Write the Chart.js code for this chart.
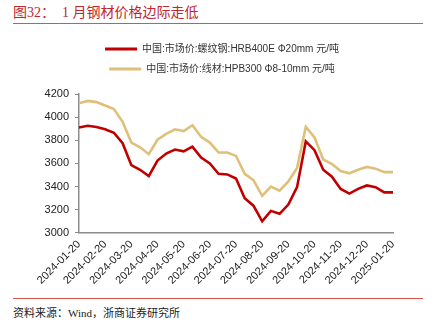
<!DOCTYPE html>
<html>
<head>
<meta charset="utf-8">
<script src="https://cdn.jsdelivr.net/npm/chart.js@4"></script>
<style>
  body { margin: 0; background: #fff; width: 438px; height: 329px; position: relative; overflow: hidden; }
  .title {
    position: absolute; left: 13px; top: 4px; width: 410px; height: 19px;
    border-bottom: 1.5px solid #d9534f;
    font-family: "Liberation Serif", "Noto Sans CJK SC", serif; font-size: 14px; color: #c0282d;
    line-height: 17px; white-space: pre;
  }
  .chart { position: absolute; left: 0; top: 28px; width: 438px; height: 268px; }
  .source {
    position: absolute; left: 13px; top: 298px; width: 410px;
    border-top: 1.5px solid #d9534f; padding-top: 5px;
    font-family: "Liberation Serif", "Noto Sans CJK SC", serif; font-size: 11px; color: #222;
  }
</style>
</head>
<body>
<div class="title">图32：  1 月钢材价格边际走低</div>
<div class="chart"><canvas id="myChart" width="438" height="268"></canvas></div>
<div class="source">资料来源：Wind，浙商证券研究所</div>
<script>
// ten-day price points, 2024-01-20 .. 2025-01-20
const dates = [
  '2024-01-20', '2024-01-31', '2024-02-10', '2024-02-20', '2024-02-29', '2024-03-10',
  '2024-03-20', '2024-03-31', '2024-04-10', '2024-04-20', '2024-04-30', '2024-05-10',
  '2024-05-20', '2024-05-31', '2024-06-10', '2024-06-20', '2024-06-30', '2024-07-10',
  '2024-07-20', '2024-07-31', '2024-08-10', '2024-08-20', '2024-08-31', '2024-09-10',
  '2024-09-20', '2024-09-30', '2024-10-10', '2024-10-20', '2024-10-31', '2024-11-10',
  '2024-11-20', '2024-11-30', '2024-12-10', '2024-12-20', '2024-12-31', '2025-01-10',
  '2025-01-20',
]
const rebar = [
  3910, 3925, 3915, 3895, 3865, 3775, 3585, 3545, 3490, 3625, 3685, 3720, 3705,
  3745, 3650, 3600, 3510, 3505, 3470, 3300, 3235, 3100, 3190, 3165, 3245, 3395,
  3790, 3715, 3545, 3485, 3380, 3340, 3380, 3410, 3395, 3350, 3350,
]
const wire = [
  4120, 4140, 4130, 4100, 4070, 3960, 3780, 3740, 3680, 3805, 3855, 3895, 3880,
  3930, 3830, 3780, 3695, 3695, 3665, 3510, 3455, 3320, 3400, 3365, 3445, 3560,
  3915, 3825, 3635, 3595, 3535, 3515, 3545, 3570, 3555, 3525, 3525,
]
const seriesNames = [
  '中国:市场价:螺纹钢:HRB400E Φ20mm 元/吨',
  '中国:市场价:线材:HPB300 Φ8-10mm 元/吨',
]
const yTicks = [3000, 3200, 3400, 3600, 3800, 4000, 4200]

const axisColor = '#8c8c8c'
const tickFont = { family: 'Liberation Sans, Arial, sans-serif', size: 11 }

// legend: extra gap below it, and shifted right so it sits over the plot
const legendTweak = {
  id: 'legendTweak',
  beforeInit(chart) {
    const fit = chart.legend.fit
    chart.legend.fit = function () {
      fit.bind(chart.legend)()
      this.height += 10
    }
  },
  afterLayout(chart) {
    chart.legend.left += 51
  },
}

const ctx = document.getElementById('myChart').getContext('2d')

new Chart(ctx, {
  type: 'line',
  data: {
    labels: dates,
    datasets: [
      {
        label: seriesNames[0],
        data: rebar,
        borderColor: '#c00000',
        backgroundColor: '#c00000',
        borderWidth: 2.6,
        pointRadius: 0,
        tension: 0,
      },
      {
        label: seriesNames[1],
        data: wire,
        borderColor: '#dfc07a',
        backgroundColor: '#dfc07a',
        borderWidth: 2.6,
        pointRadius: 0,
        tension: 0,
      },
    ],
  },
  plugins: [legendTweak],
  options: {
    responsive: false,
    animation: false,
    layout: { padding: { left: 0, right: 45, top: 6, bottom: 8 } },
    plugins: {
      tooltip: { enabled: false },
      legend: {
        position: 'top',
        labels: {
          boxWidth: 32,
          boxHeight: 3,
          padding: 10,
          color: '#333',
          font: { family: 'Liberation Sans, Arial, "Noto Sans CJK SC", sans-serif', size: 10 },
          generateLabels: (chart) =>
            Chart.defaults.plugins.legend.labels.generateLabels(chart).map((item) => ({
              ...item,
              lineWidth: 0,
            })),
        },
      },
    },
    scales: {
      x: {
        grid: { display: false, drawOnChartArea: false, drawTicks: true, tickLength: 4, color: axisColor },
        border: { color: axisColor, width: 1.5 },
        ticks: {
          autoSkip: false,
          maxRotation: 45,
          minRotation: 45,
          padding: 1,
          color: '#222',
          font: tickFont,
          callback: function (value, index) {
            return index % 3 === 0 ? dates[index] : null
          },
        },
      },
      y: {
        min: 3000,
        max: 4200,
        afterBuildTicks: (axis) => {
          axis.ticks = yTicks.map((v) => ({ value: v }))
        },
        afterFit: (axis) => {
          axis.width = 79
        },
        grid: { drawOnChartArea: false, drawTicks: true, tickLength: 4, color: axisColor },
        border: { color: axisColor, width: 1.5 },
        ticks: {
          padding: 6,
          color: '#222',
          font: tickFont,
          callback: (v) => String(v),
        },
      },
    },
  },
})
</script>
</body>
</html>
